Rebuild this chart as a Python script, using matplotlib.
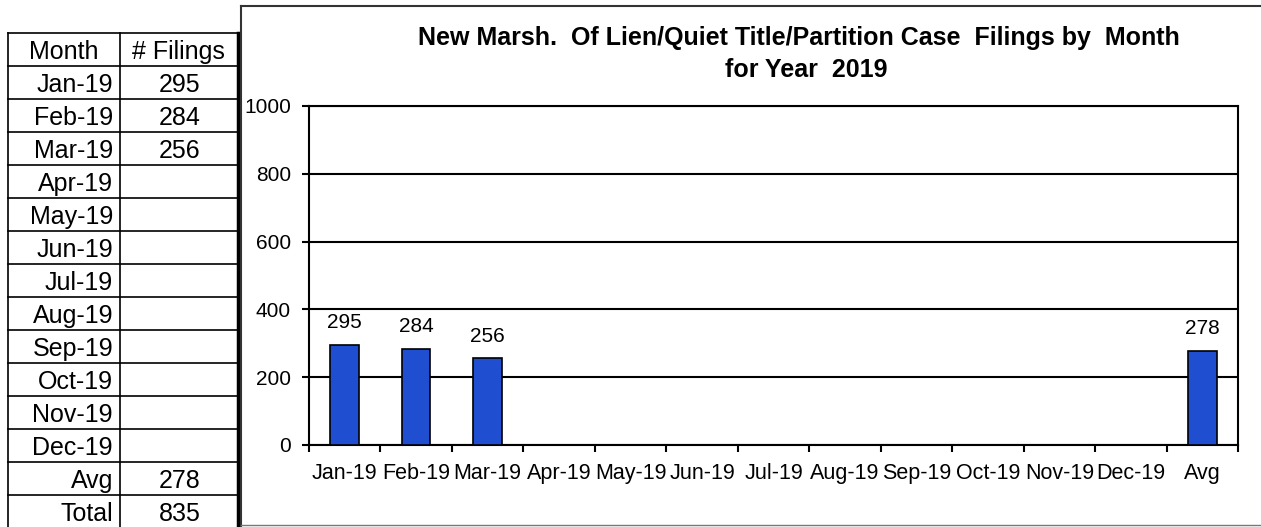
import matplotlib
matplotlib.use("Agg")
import matplotlib.pyplot as plt
import numpy as np

plt.rcParams['font.family'] = ['Liberation Sans', 'DejaVu Sans']

# ---- data ----
months = ["Jan-19", "Feb-19", "Mar-19", "Apr-19", "May-19", "Jun-19", "Jul-19",
          "Aug-19", "Sep-19", "Oct-19", "Nov-19", "Dec-19"]
filings = [295, 284, 256, None, None, None, None, None, None, None, None, None]
avg_label = "Avg"
avg_value = 278
total_label = "Total"
total_value = 835
yticks = [0, 200, 400, 600, 800, 1000]
title_line1 = "New Marsh.  Of Lien/Quiet Title/Partition Case  Filings by  Month"
title_line2 = "for Year  2019"

W, H = 1261, 527
fig = plt.figure(figsize=(W / 100, H / 100), dpi=100)
fig.patch.set_facecolor("white")

# ---- background axes in pixel coordinates (table + frame) ----
bg = fig.add_axes([0, 0, 1, 1])
bg.set_xlim(0, W)
bg.set_ylim(H, 0)
bg.axis("off")

row_top = 32.5
row_h = 33.05
rows = [("Month", "# Filings")] + \
       [(m, "" if v is None else str(v)) for m, v in zip(months, filings)] + \
       [(avg_label, str(avg_value)), (total_label, str(total_value))]
xl, xm, xr = 8, 120, 238
for k in range(len(rows) + 1):
    y = row_top + k * row_h
    bg.plot([xl, xr], [y, y], color="black", lw=1.2)
bg.plot([xl, xl], [row_top, H], color="black", lw=1.2)
bg.plot([xm, xm], [row_top, H], color="black", lw=1.2)
bg.plot([xr, xr], [row_top, H], color="black", lw=2.5)
for k, (a, b) in enumerate(rows):
    yb = row_top + (k + 1) * row_h - 7
    if k == 0:
        bg.text(64, yb, a, ha="center", va="baseline", fontsize=18)
        bg.text(178, yb, b, ha="center", va="baseline", fontsize=18)
    else:
        bg.text(113, yb, a, ha="right", va="baseline", fontsize=18)
        bg.text(180, yb, b, ha="center", va="baseline", fontsize=18)

# chart frame
bg.plot([241, 241], [6, H], color="#333333", lw=1.5)
bg.plot([241, W], [6, 6], color="#333333", lw=1.5)
bg.plot([241, W], [525, 525], color="#777777", lw=1.0)

# title
bg.text(799, 45, title_line1, ha="center", va="baseline", fontsize=18, fontweight="bold")
bg.text(806, 77, title_line2, ha="center", va="baseline", fontsize=18, fontweight="bold")

# ---- chart axes ----
left, right, top, bottom = 309, 1238, 106, 445
ax = fig.add_axes([left / W, (H - bottom) / H, (right - left) / W, (bottom - top) / H])
cats = months + [avg_label]
vals = [np.nan if v is None else v for v in filings] + [avg_value]
x = np.arange(len(cats))
ax.set_xlim(-0.5, len(cats) - 0.5)
ax.set_ylim(0, 1000)
ax.set_yticks(yticks)
ax.yaxis.grid(True, color="black", lw=1.5)
ax.set_axisbelow(True)

bars = ax.bar(x, vals, width=0.4, color="#1f4fd0", edgecolor="black", lw=1.2, zorder=3)
for xi, v in zip(x, vals):
    if not np.isnan(v):
        ax.annotate(f"{int(v)}", (xi, v), xytext=(0, 9), textcoords="offset points",
                    ha="center", va="bottom", fontsize=15)

ax.set_xticks(x)
ax.set_xticklabels(cats, fontsize=15.5)
ax.set_xticks(np.arange(-0.5, len(cats), 1.0), minor=True)
ax.tick_params(axis="x", which="major", length=0, pad=13)
ax.tick_params(axis="x", which="minor", length=5, width=1.5, direction="out")
ax.tick_params(axis="y", length=5, width=1.5, labelsize=15, pad=8)
for s in ax.spines.values():
    s.set_color("black")
    s.set_linewidth(1.5)

fig.savefig("out.png", dpi=100, facecolor="white")
